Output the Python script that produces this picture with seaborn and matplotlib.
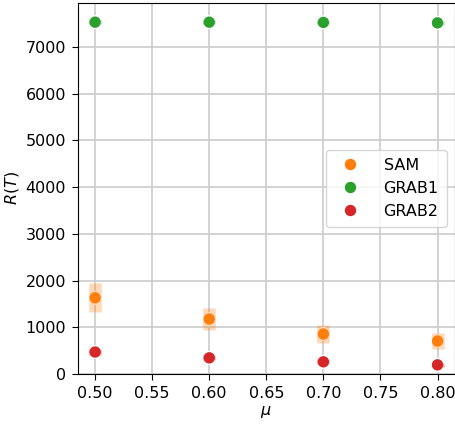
import numpy as np
import pandas as pd
import matplotlib
matplotlib.use("Agg")
import matplotlib.pyplot as plt
import seaborn as sns

plt.rcParams["font.family"] = ["DejaVu Sans"]
plt.rcParams["font.size"] = 11.5
plt.rcParams["xtick.major.size"] = 4.3
plt.rcParams["ytick.major.size"] = 4.3
plt.rcParams["xtick.major.pad"] = 4.2
plt.rcParams["ytick.major.pad"] = 4.2

mu = [0.5, 0.6, 0.7, 0.8]
sam = [1630, 1175, 855, 705]
sam_err = [310, 240, 190, 170]
grab1 = [7530, 7530, 7525, 7515]
grab1_err = [40, 40, 40, 40]
grab2 = [470, 345, 260, 195]
grab2_err = [60, 55, 50, 45]

methods = ["SAM", "GRAB1", "GRAB2"]
colors = {"SAM": "#ff7f0e", "GRAB1": "#2ca02c", "GRAB2": "#d62728"}

df = pd.DataFrame({
    "mu": mu * 3,
    "R": sam + grab1 + grab2,
    "err": sam_err + grab1_err + grab2_err,
    "method": [m for m in methods for _ in mu],
})

fig, ax = plt.subplots(figsize=(4.56, 4.24), dpi=100)
ax.grid(True, color="#cccccc", linewidth=1.2)
ax.set_axisbelow(True)

sns.scatterplot(data=df, x="mu", y="R", hue="method", hue_order=methods,
                palette=colors, s=85, edgecolor="white", linewidth=1, ax=ax, zorder=3)
for m in methods:
    sub = df[df["method"] == m]
    ax.errorbar(sub["mu"], sub["R"], yerr=sub["err"], fmt="none",
                ecolor=colors[m], elinewidth=9, alpha=0.3, zorder=4)

ax.set_ylim(bottom=0)
ax.set_xlabel(r"$\mu$", labelpad=2)
ax.set_ylabel(r"$R(T)$", labelpad=3)
ax.legend(loc="center right", fontsize=11.5, borderpad=0.5, handletextpad=1.1)
fig.subplots_adjust(left=0.171, right=0.997, top=0.993, bottom=0.118)
plt.savefig("out.png", dpi=100)
plt.close()
